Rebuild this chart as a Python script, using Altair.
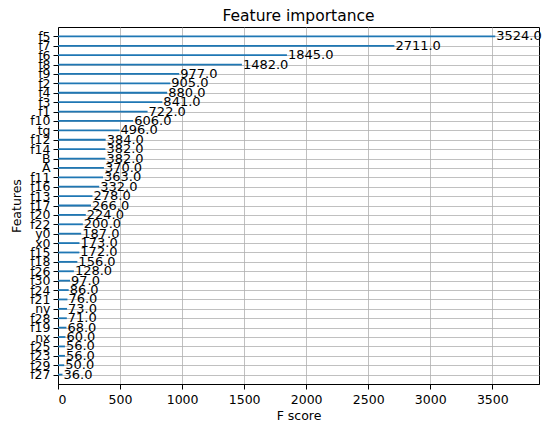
import altair as alt
import pandas as pd

features = ["f5", "f7", "f6", "f8", "f9", "f2", "f4", "f3", "f1", "f10", "tg",
            "f12", "f14", "B", "A", "f11", "f16", "f13", "f17", "f20", "f22",
            "y0", "x0", "f15", "f18", "f26", "f30", "f24", "f21", "ny", "f28",
            "f19", "nx", "f25", "f23", "f29", "f27"]
scores = [3524, 2711, 1845, 1482, 977, 905, 880, 841, 722, 606, 496,
          384, 382, 382, 370, 363, 332, 278, 266, 224, 200,
          187, 173, 172, 156, 128, 97, 86, 76, 73, 71,
          68, 60, 56, 56, 50, 36]
x_ticks = [0, 500, 1000, 1500, 2000, 2500, 3000, 3500]

df = pd.DataFrame({"feature": features, "score": scores})
df["label"] = [f"{v:.1f}" for v in scores]

xmax = max(scores) * 1.1

x_enc = alt.X("score:Q", scale=alt.Scale(domain=[0, xmax], nice=False, zero=True),
              axis=alt.Axis(values=x_ticks, title="F score", format="d",
                            labelFontSize=12.5, titleFontSize=12.5, titleFontWeight="normal",
                            tickSize=5, labelPadding=4, titlePadding=4,
                            grid=True, gridColor="#b0b0b0", gridWidth=0.8,
                            domainColor="black", tickColor="black", labelColor="black",
                            titleColor="black"))
y_enc = alt.Y("feature:N", sort=features,
              scale=alt.Scale(type="point", padding=1),
              axis=alt.Axis(title="Features", labelFontSize=12.5, titleFontSize=12.5,
                            titleFontWeight="normal", tickSize=5, labelPadding=3,
                            grid=True, gridColor="#b0b0b0", gridWidth=0.8,
                            domainColor="black", tickColor="black", labelColor="black",
                            titleColor="black", titlePadding=6))

bars = alt.Chart(df).mark_bar(color="#1f77b4", size=1.8).encode(
    x=x_enc, y=y_enc)
texts = alt.Chart(df).mark_text(align="left", baseline="middle", dx=1,
                                fontSize=13, color="black").encode(
    x="score:Q", y=alt.Y("feature:N", sort=features), text="label:N")

chart = (bars + texts).properties(
    width=481, height=357,
    title=alt.TitleParams("Feature importance", fontSize=15.5, fontWeight="normal",
                          color="black", anchor="middle", frame="group", offset=3),
    padding={"left": 50, "top": 19, "right": 3, "bottom": 40},
    autosize=alt.AutoSizeParams(type="none"),
).configure(font="DejaVu Sans").configure_view(stroke="black", strokeWidth=1)

chart.save("out.html", embed_options={"renderer": "svg", "actions": False})
